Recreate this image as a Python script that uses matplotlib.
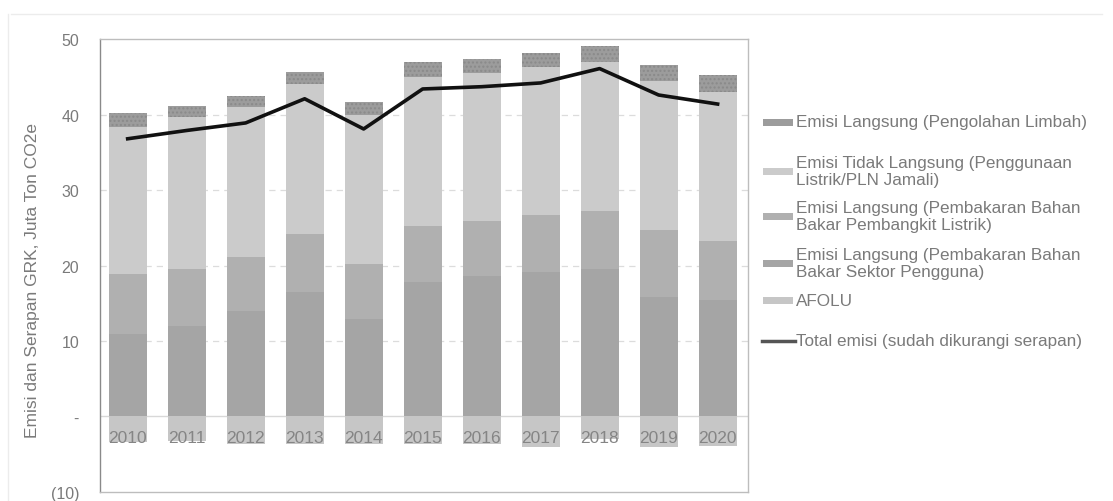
import matplotlib.pyplot as plt
from matplotlib.patches import Rectangle
from matplotlib.lines import Line2D
import numpy as np

plt.rcParams['font.family'] = ['Liberation Sans', 'DejaVu Sans']

# data (Juta Ton CO2e)
years = ['2010', '2011', '2012', '2013', '2014', '2015', '2016', '2017', '2018', '2019', '2020']
afolu = [-3.4, -3.3, -3.6, -3.6, -3.6, -3.6, -3.7, -4.0, -3.0, -4.0, -3.9]
sektor_pengguna = [10.9, 12.0, 14.0, 16.5, 12.9, 17.8, 18.6, 19.1, 19.5, 15.8, 15.5]
pembangkit = [8.0, 7.5, 7.1, 7.7, 7.3, 7.5, 7.3, 7.6, 7.7, 8.9, 7.7]
tidak_langsung = [19.5, 20.2, 19.9, 19.8, 19.8, 19.7, 19.6, 19.6, 19.8, 19.7, 19.8]
limbah = [1.8, 1.5, 1.5, 1.7, 1.7, 2.0, 1.9, 1.9, 2.1, 2.2, 2.3]
total_emisi = [36.8, 37.9, 38.9, 42.1, 38.1, 43.4, 43.7, 44.2, 46.1, 42.6, 41.4]

labels = ['Emisi Langsung (Pengolahan Limbah)',
          'Emisi Tidak Langsung (Penggunaan\nListrik/PLN Jamali)',
          'Emisi Langsung (Pembakaran Bahan\nBakar Pembangkit Listrik)',
          'Emisi Langsung (Pembakaran Bahan\nBakar Sektor Pengguna)',
          'AFOLU',
          'Total emisi (sudah dikurangi serapan)']

c_limbah = '#9c9c9c'
c_tidak = '#cbcbcb'
c_pembangkit = '#b0b0b0'
c_sektor = '#a5a5a5'
c_afolu = '#c6c6c6'
c_text = '#7a7a7a'

fig = plt.figure(figsize=(11.13, 5.02), dpi=100)
ax = fig.add_axes([0.0898, 0.018, 0.582, 0.902])

x = np.arange(len(years))
w = 0.64

# bars, stacked from zero upwards; AFOLU below zero
ax.bar(x, afolu, w, color=c_afolu, zorder=2)
bottom = np.zeros(len(years))
for vals, col, hatch in [(sektor_pengguna, c_sektor, None),
                         (pembangkit, c_pembangkit, None),
                         (tidak_langsung, c_tidak, None),
                         (limbah, c_limbah, '....')]:
    ax.bar(x, vals, w, bottom=bottom, color=col, hatch=hatch,
           edgecolor=col if hatch is None else '#8a8a8a', linewidth=0, zorder=2)
    bottom = bottom + np.array(vals)

ax.plot(x, total_emisi, color='#111111', lw=2.6, zorder=4)

# year labels sit inside the plot over the AFOLU band
for xi, yr in zip(x, years):
    ax.text(xi, -2.8, yr, ha='center', va='center', fontsize=12.5, color='#858585', zorder=5)

ax.set_xlim(-0.47, 10.51)
ax.set_ylim(-10, 50)
ax.set_xticks([])
ax.set_yticks([-10, 0, 10, 20, 30, 40, 50])
ax.set_yticklabels(['(10)', '-', '10', '20', '30', '40', '50'])
ax.tick_params(axis='y', length=0, pad=15, labelsize=11.5, labelcolor=c_text)
for v in [10, 20, 30, 40]:
    ax.axhline(v, color='#dcdcdc', lw=0.9, ls=(0, (5, 4)), zorder=1)
ax.axhline(0, color='#d8d8d8', lw=1, zorder=1)

for s in ax.spines.values():
    s.set_color('#bdbdbd')
    s.set_linewidth(1)
ax.spines['left'].set_color('#8a8a8a')
ax.spines['left'].set_linestyle((0, (1, 1)))

ax.set_ylabel('Emisi dan Serapan GRK, Juta Ton CO2e', fontsize=12.5, color=c_text)
ax.yaxis.set_label_coords(-0.093, 0.47)

# legend drawn by hand to follow the original spacing
leg_y = [123, 172, 217, 264, 301, 342]
leg_cols = [c_limbah, c_tidak, c_pembangkit, c_sektor, c_afolu, None]
H = 502.0
for lab, yy, col in zip(labels, leg_y, leg_cols):
    fy = 1 - yy / H
    if col is None:
        fig.add_artist(Line2D([762 / 1113, 795 / 1113], [fy, fy], color='#555555', lw=2.5))
    else:
        fig.add_artist(Rectangle((763 / 1113, fy - 3.5 / H), 30 / 1113, 7 / H,
                                 facecolor=col, edgecolor='none'))
    fig.text(796 / 1113, fy, lab, fontsize=12.3, color=c_text, va='center', ha='left', linespacing=1.2)

# faint page frame
fig.add_artist(Line2D([0.01, 0.99], [1 - 15 / H, 1 - 15 / H], color='#ececec', lw=1))
fig.add_artist(Line2D([8 / 1113, 8 / 1113], [0.0, 1 - 15 / H], color='#ececec', lw=1))

fig.savefig('out.png', dpi=100)
